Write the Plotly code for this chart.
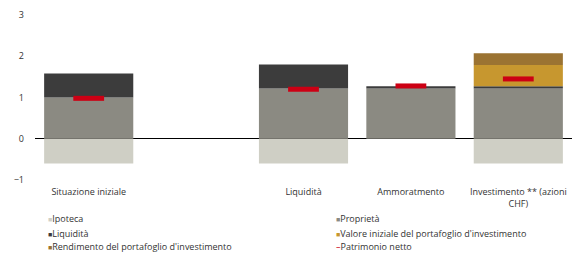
import plotly.graph_objects as go

categories = ["Situazione iniziale", " ", "Liquidità", "Ammoratmento", "Investimento ** (azioni<br>CHF)"]
ipoteca = [-0.6, None, -0.6, None, -0.6]
proprieta = [1.0, None, 1.22, 1.22, 1.22]
liquidita = [0.58, None, 0.58, 0.05, 0.05]
valore_iniziale = [None, None, None, None, 0.52]
rendimento = [None, None, None, None, 0.28]
patrimonio = [0.98, None, 1.2, 1.28, 1.45]

names = ["Ipoteca", "Proprietà", "Liquidità", "Valore iniziale del portafoglio d'investimento",
         "Rendimento del portafoglio d'investimento", "Patrimonio netto"]
colors = ["#cfcfc5", "#8b8a82", "#3c3c3c", "#c7972f", "#9b7332", "#cc0014"]

fig = go.Figure()
series = [ipoteca, proprieta, liquidita, valore_iniziale, rendimento]
for vals, col, nm in zip(series, colors[:5], names[:5]):
    fig.add_trace(go.Bar(x=categories, y=vals, name=nm, marker=dict(color=col, line=dict(width=0)),
                         showlegend=False))
fig.add_trace(go.Scatter(x=categories, y=patrimonio, mode="markers", name=names[5], showlegend=False,
                         marker=dict(symbol="line-ew", size=22, color=colors[5],
                                     line=dict(width=5, color=colors[5]))))

W, H = 580, 256
ml, mr, mt, mb = 35, 8, 9, 76
pw, ph = W - ml - mr, H - mt - mb

# legend drawn as text: two columns, row-major order
col_x = [46, 334]
row_y = [220, 235, 249]
for k, (nm, col) in enumerate(zip(names, colors)):
    r, c = divmod(k, 2)
    glyph = "–" if k == 5 else "■"
    gsize = 9 if k == 5 else 7
    txt = f'<span style="color:{col};font-size:{gsize}px">{glyph}</span>{nm}'
    fig.add_annotation(text=txt, xref="paper", yref="paper",
                       x=(col_x[c] - ml) / pw, y=(ph + mt - row_y[r]) / ph,
                       xanchor="left", yanchor="middle", showarrow=False,
                       font=dict(size=9, color="#333333"))

fig.update_layout(
    width=W, height=H,
    margin=dict(l=ml, r=mr, t=mt, b=mb),
    paper_bgcolor="white", plot_bgcolor="white",
    barmode="relative", bargap=0.17,
    font=dict(family="Open Sans", size=9, color="#333333"),
    xaxis=dict(showline=False, ticks="", showgrid=False, tickfont=dict(size=9),
               ticklabelstandoff=5),
    yaxis=dict(range=[-1, 3], tickvals=[-1, 0, 1, 2, 3], showgrid=False, zeroline=True,
               zerolinecolor="#000000", zerolinewidth=1, showline=False, ticks="",
               ticklabelstandoff=10),
    showlegend=False,
)
fig.write_html("out.html")
